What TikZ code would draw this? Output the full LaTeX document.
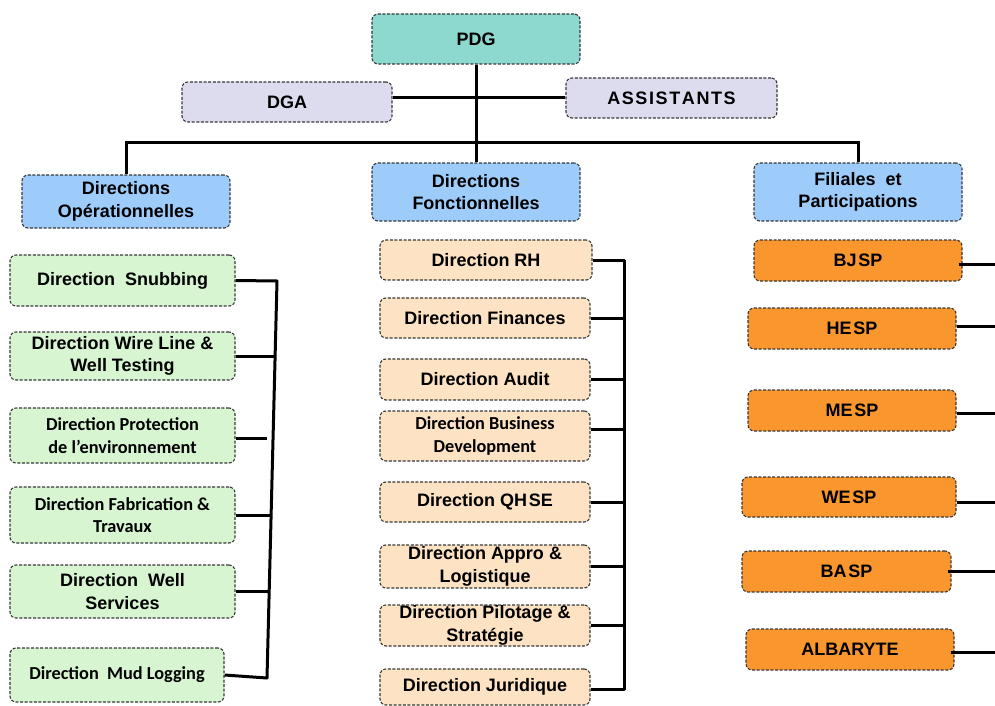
\documentclass[tikz,border=0pt]{standalone}
\usepackage{fontspec}
\setmainfont{Liberation Sans}
\newfontfamily\calfont{Carlito}
\usetikzlibrary{calc}

\definecolor{cTeal}{RGB}{141,216,207}
\definecolor{cLav}{RGB}{220,220,238}
\definecolor{cBlue}{RGB}{158,204,250}
\definecolor{cGreen}{RGB}{214,245,208}
\definecolor{cPeach}{RGB}{253,227,195}
\definecolor{cOrange}{RGB}{249,150,46}
\definecolor{cEdge}{RGB}{55,55,55}

\tikzset{
  orgbox/.style={draw=cEdge, line width=1.1pt, dash pattern=on 3pt off 1.6pt,
    rounded corners=6pt, inner sep=0pt, align=center,
    font=\fontsize{18}{22.5}\selectfont\bfseries},
  topbox/.style={orgbox, fill=cTeal},
  lavbox/.style={orgbox, fill=cLav},
  headbox/.style={orgbox, fill=cBlue},
  opbox/.style={orgbox, fill=cGreen},
  fnbox/.style={orgbox, fill=cPeach},
  subbox/.style={orgbox, fill=cOrange},
  wire/.style={draw=black, line width=3pt},
  cal/.style={font=\calfont\fontsize{18.3}{22.5}\selectfont\bfseries},
  sz/.style 2 args={minimum width=#1pt, minimum height=#2pt}
}
\newcommand{\ls}{\hspace{1.6pt}}

\begin{document}
\begin{tikzpicture}[x=1pt, y=-1pt]
\useasboundingbox (0,0) rectangle (995,706);

% top management
\node[topbox, sz={208}{50}] (pdg) at (476,39) {PDG};
\node[lavbox, sz={210}{40}] (dga) at (287,102) {DGA};
\node[lavbox, sz={211}{40}] (assist) at (671.5,98) {A\ls S\ls S\ls I\ls S\ls T\ls A\ls N\ls T\ls S};

% column heads
\node[headbox, sz={208}{53}] (dop) at (126,201.5) {Directions\\Opérationnelles};
\node[headbox, sz={208}{58}] (dfo) at (476,192) {Directions\\Fonctionnelles};
\node[headbox, sz={208}{58}] (fil) at (858,192) {Filiales\ \ et\\Participations};

% operational directions
\node[opbox, sz={225}{51}] (snub) at (122.5,280.5) {Direction\ \ Snubbing};
\node[opbox, sz={225}{48}] (wline) at (122.5,356) {Direction Wire Line \&\\Well Testing};
\node[opbox, cal, sz={225}{55}] (prot) at (122.5,435.5) {Direction Protection\\de l’environnement};
\node[opbox, cal, sz={225}{56}] (fab) at (122.5,515) {Direction Fabrication \&\\Travaux};
\node[opbox, sz={225}{53}] (wells) at (122.5,591.5) {Direction\ \ Well\\Services};
\node[opbox, cal, sz={214}{54}] (mud) at (117,675) {Direction\ \ Mud Logging};

% functional directions
\node[fnbox, sz={212}{40}] (rh) at (486,260) {Direction RH};
\node[fnbox, sz={210}{40}] (fin) at (485,318) {Direction Finances};
\node[fnbox, sz={210}{41}] (aud) at (485,379.5) {Direction Audit};
\node[fnbox, cal, sz={210}{50}] (busdev) at (485,436) {Direction Business\\Development};
\node[fnbox, sz={210}{40}] (qhse) at (485,502) {Direction QH\ls SE};
\node[fnbox, sz={210}{43}] (appro) at (485,566.5) {Direction Appro \&\\Logistique};
\node[fnbox, sz={210}{41}] (pil) at (485,625.5) {Direction Pilotage \&\\Stratégie};
\node[fnbox, sz={210}{36}] (jur) at (485,687) {Direction Juridique};

% subsidiaries
\node[subbox, sz={208}{41}] (bjsp) at (858,260.5) {BJ\ls SP};
\node[subbox, sz={208}{41}] (hesp) at (852,328.5) {HE\ls SP};
\node[subbox, sz={208}{41}] (mesp) at (852,410.5) {ME\ls SP};
\node[subbox, sz={214}{40}] (wesp) at (849,497) {WE\ls SP};
\node[subbox, sz={209}{41}] (basp) at (846.5,571.5) {BA\ls SP};
\node[subbox, sz={208}{41}] (alb) at (850,649.5) {ALBARYTE};

% helper points
\coordinate (hbus) at (476,142);
\coordinate (edge) at (995,0);
\coordinate (lsT) at (277,281);
\coordinate (lsB) at (267,678);
\coordinate (protEnd) at (267,438);
\coordinate (msT) at (624,260);
\coordinate (msB) at (624,689);

% top connectors
\draw[wire] (pdg.south) -- (dfo.north);
\draw[wire] (dga.east |- assist.west) -- (assist.west);
\draw[wire] (dop.north) -- (dop.north |- hbus) -- (fil.north |- hbus) -- (fil.north);

% operational spine
\draw[wire, line join=round] (snub.east) -- (lsT) -- (lsB) -- (mud.east);
\draw[wire] (wline.east) -- (275.1,356);
\draw[wire] (prot.east |- protEnd) -- (protEnd);
\draw[wire] (fab.east) -- (271.2,515);
\draw[wire] (wells.east) -- (269.1,591.5);

% functional spine
\draw[wire, line join=round] (rh.east) -- (msT) -- (msB) -- (jur.east |- msB);
\foreach \n in {fin,aud,qhse,appro,pil}{
  \draw[wire] (\n.east) -- (\n.east -| msT);
}
\draw[wire] ([yshift=7pt]busdev.east) -- ([yshift=7pt]busdev.east -| msT);

% subsidiary links running off to the right
\draw[wire] ([shift={(-4pt,-4pt)}]bjsp.east) -- ([yshift=-4pt]bjsp.east -| edge);
\draw[wire] ([yshift=2.5pt]hesp.east) -- ([yshift=2.5pt]hesp.east -| edge);
\draw[wire] ([yshift=-2.5pt]mesp.east) -- ([yshift=-2.5pt]mesp.east -| edge);
\draw[wire] ([yshift=-5pt]wesp.east) -- ([yshift=-5pt]wesp.east -| edge);
\draw[wire] ([xshift=-4pt]basp.east) -- (basp.east -| edge);
\draw[wire] ([shift={(-4pt,-2.5pt)}]alb.east) -- ([yshift=-2.5pt]alb.east -| edge);
\end{tikzpicture}
\end{document}
